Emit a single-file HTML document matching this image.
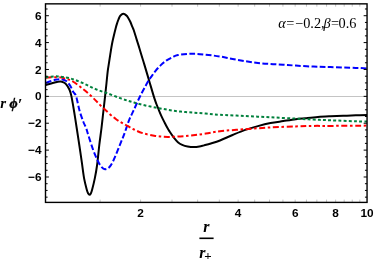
<!DOCTYPE html>
<html><head><meta charset="utf-8"><style>
html,body{margin:0;padding:0;background:#fff;}
body{width:374px;height:261px;overflow:hidden;font-family:"Liberation Sans",sans-serif;}
svg{display:block;will-change:transform}
.t{font-family:"Liberation Sans",sans-serif;font-weight:bold;font-size:11.8px;fill:#000}
.s{font-family:"Liberation Serif",serif;fill:#000}
</style></head><body>
<svg width="374" height="261" viewBox="0 0 374 261">
<rect width="374" height="261" fill="#fff"/>
<clipPath id="c"><rect x="45.50" y="3.85" width="321.55" height="198.55"/></clipPath>
<path d="M45.50 96.5H367.05" stroke="#c4c4c4" stroke-width="1" fill="none"/>
<g clip-path="url(#c)" fill="none" stroke-width="2" stroke-linejoin="round">
<path d="M45.60 85.00 C46.67 84.72 50.10 83.80 52.00 83.30 C53.90 82.80 55.62 82.30 57.00 82.00 C58.38 81.70 59.22 81.45 60.30 81.50 C61.38 81.55 62.52 81.83 63.50 82.30 C64.48 82.77 65.22 83.10 66.20 84.30 C67.18 85.50 68.53 87.53 69.40 89.50 C70.27 91.47 70.60 92.35 71.40 96.10 C72.20 99.85 73.32 106.68 74.20 112.00 C75.08 117.32 75.85 122.50 76.70 128.00 C77.55 133.50 78.45 139.30 79.30 145.00 C80.15 150.70 81.00 156.63 81.80 162.20 C82.60 167.77 83.27 173.80 84.10 178.40 C84.93 183.00 86.12 187.28 86.80 189.80 C87.48 192.32 87.75 192.67 88.20 193.50 C88.65 194.33 89.07 194.80 89.50 194.80 C89.93 194.80 90.37 194.33 90.80 193.50 C91.23 192.67 91.43 192.32 92.10 189.80 C92.77 187.28 93.97 182.53 94.80 178.40 C95.63 174.27 96.35 170.57 97.10 165.00 C97.85 159.43 98.57 151.17 99.30 145.00 C100.03 138.83 100.83 133.50 101.50 128.00 C102.17 122.50 102.70 117.32 103.30 112.00 C103.90 106.68 104.57 100.93 105.10 96.10 C105.63 91.27 106.07 87.13 106.50 83.00 C106.93 78.87 107.27 74.77 107.70 71.30 C108.13 67.83 108.65 65.14 109.10 62.20 C109.55 59.26 109.92 56.68 110.40 53.65 C110.88 50.62 111.45 46.91 112.00 44.00 C112.55 41.09 113.07 38.93 113.70 36.20 C114.33 33.48 115.25 29.75 115.80 27.65 C116.35 25.55 116.63 24.76 117.00 23.60 C117.37 22.44 117.63 21.68 118.00 20.70 C118.37 19.72 118.80 18.53 119.20 17.70 C119.60 16.87 119.98 16.26 120.40 15.70 C120.83 15.14 121.25 14.67 121.75 14.35 C122.25 14.03 122.86 13.76 123.40 13.75 C123.94 13.74 124.50 14.01 125.00 14.30 C125.50 14.59 125.96 15.05 126.40 15.50 C126.84 15.95 127.00 15.95 127.65 17.00 C128.30 18.05 129.49 20.10 130.30 21.80 C131.11 23.50 131.93 25.83 132.50 27.20 C133.07 28.57 133.00 27.93 133.70 30.00 C134.40 32.08 135.75 36.62 136.70 39.65 C137.65 42.68 138.50 45.26 139.40 48.20 C140.30 51.14 141.28 54.60 142.10 57.30 C142.92 60.00 143.15 60.58 144.30 64.40 C145.45 68.22 147.43 74.92 149.00 80.20 C150.57 85.48 152.47 92.13 153.70 96.10 C154.93 100.07 155.58 101.78 156.40 104.00 C157.22 106.22 157.78 107.43 158.60 109.40 C159.42 111.37 160.28 113.57 161.30 115.80 C162.32 118.03 163.72 120.83 164.70 122.80 C165.68 124.77 166.40 126.17 167.20 127.60 C168.00 129.03 168.43 129.77 169.50 131.40 C170.57 133.03 172.25 135.60 173.65 137.40 C175.05 139.20 176.48 140.95 177.90 142.20 C179.32 143.45 180.58 144.18 182.20 144.90 C183.82 145.62 185.63 146.14 187.60 146.50 C189.57 146.86 192.03 147.06 194.00 147.06 C195.97 147.06 197.75 146.78 199.40 146.50 C201.05 146.22 201.98 145.90 203.90 145.40 C205.82 144.90 208.22 144.32 210.90 143.50 C213.58 142.68 216.38 141.92 220.00 140.50 C223.62 139.08 228.38 136.77 232.60 135.00 C236.82 133.23 241.08 131.38 245.30 129.90 C249.52 128.42 253.70 127.23 257.90 126.10 C262.10 124.97 266.28 123.93 270.50 123.10 C274.72 122.27 278.98 121.75 283.20 121.10 C287.42 120.45 292.12 119.68 295.80 119.20 C299.48 118.72 301.62 118.57 305.30 118.20 C308.98 117.83 313.70 117.32 317.90 117.00 C322.10 116.68 326.28 116.50 330.50 116.30 C334.72 116.10 338.98 115.97 343.20 115.80 C347.42 115.63 351.80 115.43 355.80 115.30 C359.80 115.17 365.30 115.05 367.20 115.00" stroke="#000"/>
<path d="M45.80 82.90 C46.80 82.55 49.93 81.35 51.80 80.80 C53.67 80.25 55.47 79.87 57.00 79.60 C58.53 79.33 59.47 78.97 61.00 79.20 C62.53 79.43 64.68 79.93 66.20 81.00 C67.72 82.07 68.92 83.75 70.10 85.60 C71.28 87.45 72.31 90.35 73.30 92.10 C74.29 93.85 75.02 93.03 76.05 96.10 C77.08 99.17 78.31 106.27 79.50 110.50 C80.69 114.73 82.10 118.58 83.20 121.50 C84.30 124.42 85.25 125.72 86.10 128.00 C86.95 130.28 87.10 131.48 88.30 135.20 C89.50 138.92 91.77 146.13 93.30 150.30 C94.83 154.47 96.22 157.53 97.50 160.20 C98.78 162.87 99.75 164.80 101.00 166.30 C102.25 167.80 103.58 169.08 105.00 169.20 C106.42 169.32 108.12 168.40 109.50 167.00 C110.88 165.60 111.62 164.37 113.30 160.80 C114.98 157.23 117.70 150.27 119.60 145.60 C121.50 140.93 123.13 137.02 124.70 132.80 C126.27 128.58 127.53 123.98 129.00 120.30 C130.47 116.62 131.65 114.70 133.50 110.70 C135.35 106.70 137.73 101.07 140.10 96.30 C142.47 91.53 145.85 85.33 147.70 82.10 C149.55 78.87 149.92 78.73 151.20 76.90 C152.48 75.07 153.80 73.07 155.40 71.10 C157.00 69.13 159.00 66.83 160.80 65.10 C162.60 63.37 164.32 61.97 166.20 60.70 C168.08 59.43 170.13 58.43 172.10 57.50 C174.07 56.57 174.70 55.73 178.00 55.10 C181.30 54.47 187.27 53.77 191.90 53.70 C196.53 53.63 201.12 54.23 205.80 54.70 C210.48 55.17 215.53 55.78 220.00 56.50 C224.47 57.22 228.38 58.22 232.60 59.00 C236.82 59.78 241.08 60.53 245.30 61.20 C249.52 61.87 253.70 62.53 257.90 63.00 C262.10 63.47 266.28 63.72 270.50 64.00 C274.72 64.28 278.98 64.43 283.20 64.70 C287.42 64.97 290.75 65.28 295.80 65.60 C300.85 65.92 307.72 66.35 313.50 66.60 C319.28 66.85 323.45 66.88 330.50 67.10 C337.55 67.32 349.68 67.68 355.80 67.90 C361.92 68.12 365.30 68.32 367.20 68.40" stroke="#0000ff" stroke-dasharray="5.8 2.4"/>
<path d="M45.60 77.70 C47.83 77.62 55.60 77.02 59.00 77.20 C62.40 77.38 63.68 78.08 66.00 78.80 C68.32 79.52 70.07 79.80 72.90 81.50 C75.73 83.20 79.63 86.27 83.00 89.00 C86.37 91.73 89.73 94.73 93.10 97.90 C96.47 101.07 99.42 104.48 103.20 108.00 C106.98 111.52 112.02 116.17 115.80 119.00 C119.58 121.83 122.87 123.25 125.90 125.00 C128.93 126.75 131.22 128.15 134.00 129.50 C136.78 130.85 139.05 132.03 142.60 133.10 C146.15 134.17 151.08 135.27 155.30 135.90 C159.52 136.53 163.70 136.82 167.90 136.90 C172.10 136.98 176.28 136.68 180.50 136.40 C184.72 136.12 188.98 135.67 193.20 135.20 C197.42 134.73 201.33 134.27 205.80 133.60 C210.27 132.93 213.42 131.93 220.00 131.20 C226.58 130.47 236.88 129.83 245.30 129.20 C253.72 128.57 262.08 127.87 270.50 127.40 C278.92 126.93 288.63 126.65 295.80 126.40 C302.97 126.15 307.72 125.98 313.50 125.90 C319.28 125.82 321.55 125.95 330.50 125.90 C339.45 125.85 361.08 125.65 367.20 125.60" stroke="#ff0000" stroke-dasharray="6 2.6 2.5 2.6"/>
<path d="M45.60 77.20 C47.62 77.07 53.58 76.20 57.70 76.40 C61.82 76.60 66.08 77.27 70.30 78.40 C74.52 79.53 78.78 81.42 83.00 83.20 C87.22 84.98 91.40 87.37 95.60 89.10 C99.80 90.83 103.98 92.05 108.20 93.60 C112.42 95.15 117.02 97.03 120.90 98.40 C124.78 99.77 127.88 100.73 131.50 101.80 C135.12 102.87 138.63 103.85 142.60 104.80 C146.57 105.75 151.08 106.67 155.30 107.50 C159.52 108.33 163.70 109.12 167.90 109.80 C172.10 110.48 176.28 111.13 180.50 111.60 C184.72 112.07 188.98 112.27 193.20 112.60 C197.42 112.93 201.33 113.23 205.80 113.60 C210.27 113.97 213.42 114.40 220.00 114.80 C226.58 115.20 236.88 115.58 245.30 116.00 C253.72 116.42 262.08 116.87 270.50 117.30 C278.92 117.73 288.63 118.22 295.80 118.60 C302.97 118.98 307.72 119.32 313.50 119.60 C319.28 119.88 323.45 120.02 330.50 120.30 C337.55 120.58 349.68 121.08 355.80 121.30 C361.92 121.52 365.30 121.55 367.20 121.60" stroke="#00803c" stroke-dasharray="2.9 2.25"/>
</g>
<g stroke="#000" stroke-width="1" fill="none"><path d="M45.50 197.15h2.10 M367.05 197.15h-2.10"/><path d="M45.50 190.43h2.10 M367.05 190.43h-2.10"/><path d="M45.50 183.71h2.10 M367.05 183.71h-2.10"/><path d="M45.50 176.99h3.40 M367.05 176.99h-3.40"/><path d="M45.50 170.27h2.10 M367.05 170.27h-2.10"/><path d="M45.50 163.55h2.10 M367.05 163.55h-2.10"/><path d="M45.50 156.83h2.10 M367.05 156.83h-2.10"/><path d="M45.50 150.11h3.40 M367.05 150.11h-3.40"/><path d="M45.50 143.39h2.10 M367.05 143.39h-2.10"/><path d="M45.50 136.67h2.10 M367.05 136.67h-2.10"/><path d="M45.50 129.95h2.10 M367.05 129.95h-2.10"/><path d="M45.50 123.23h3.40 M367.05 123.23h-3.40"/><path d="M45.50 116.51h2.10 M367.05 116.51h-2.10"/><path d="M45.50 109.79h2.10 M367.05 109.79h-2.10"/><path d="M45.50 103.07h2.10 M367.05 103.07h-2.10"/><path d="M45.50 96.35h3.40 M367.05 96.35h-3.40"/><path d="M45.50 89.63h2.10 M367.05 89.63h-2.10"/><path d="M45.50 82.91h2.10 M367.05 82.91h-2.10"/><path d="M45.50 76.19h2.10 M367.05 76.19h-2.10"/><path d="M45.50 69.47h3.40 M367.05 69.47h-3.40"/><path d="M45.50 62.75h2.10 M367.05 62.75h-2.10"/><path d="M45.50 56.03h2.10 M367.05 56.03h-2.10"/><path d="M45.50 49.31h2.10 M367.05 49.31h-2.10"/><path d="M45.50 42.59h3.40 M367.05 42.59h-3.40"/><path d="M45.50 35.87h2.10 M367.05 35.87h-2.10"/><path d="M45.50 29.15h2.10 M367.05 29.15h-2.10"/><path d="M45.50 22.43h2.10 M367.05 22.43h-2.10"/><path d="M45.50 15.71h3.40 M367.05 15.71h-3.40"/><path d="M45.50 8.99h2.10 M367.05 8.99h-2.10"/></g><g stroke="#000" stroke-opacity="0.4" stroke-width="0.6" fill="none"><path d="M100.12 202.40v-2.80 M100.12 3.85v2.80"/><path d="M140.60 202.40v-2.80 M140.60 3.85v2.80"/><path d="M172.00 202.40v-2.80 M172.00 3.85v2.80"/><path d="M197.65 202.40v-2.80 M197.65 3.85v2.80"/><path d="M219.34 202.40v-2.80 M219.34 3.85v2.80"/><path d="M238.13 202.40v-2.80 M238.13 3.85v2.80"/><path d="M254.70 202.40v-2.80 M254.70 3.85v2.80"/><path d="M269.52 202.40v-2.80 M269.52 3.85v2.80"/><path d="M282.93 202.40v-2.80 M282.93 3.85v2.80"/><path d="M295.17 202.40v-2.80 M295.17 3.85v2.80"/><path d="M306.44 202.40v-2.80 M306.44 3.85v2.80"/><path d="M316.86 202.40v-2.80 M316.86 3.85v2.80"/><path d="M326.57 202.40v-2.80 M326.57 3.85v2.80"/><path d="M335.65 202.40v-2.80 M335.65 3.85v2.80"/><path d="M344.18 202.40v-2.80 M344.18 3.85v2.80"/><path d="M352.22 202.40v-2.80 M352.22 3.85v2.80"/><path d="M359.83 202.40v-2.80 M359.83 3.85v2.80"/></g>
<rect x="45.50" y="3.85" width="321.55" height="198.55" fill="none" stroke="#000" stroke-width="1.4"/>
<g class="t"><text x="41.6" y="19.81" text-anchor="end">6</text><text x="41.6" y="46.69" text-anchor="end">4</text><text x="41.6" y="73.57" text-anchor="end">2</text><text x="41.6" y="100.45" text-anchor="end">0</text><text x="41.6" y="127.33" text-anchor="end">−2</text><text x="41.6" y="154.21" text-anchor="end">−4</text><text x="41.6" y="181.09" text-anchor="end">−6</text><text x="140.60" y="216.5" text-anchor="middle">2</text><text x="238.13" y="216.5" text-anchor="middle">4</text><text x="295.17" y="216.5" text-anchor="middle">6</text><text x="335.65" y="216.5" text-anchor="middle">8</text><text x="367.05" y="216.5" text-anchor="middle">10</text></g>
<text class="s" y="28.3" font-size="14.3px"><tspan x="278.3" font-style="italic">α</tspan><tspan x="286.3">=</tspan><tspan x="295.1">−0.2,</tspan><tspan x="323.5" font-style="italic">β</tspan><tspan x="330.9">=</tspan><tspan x="338.6">0.6</tspan></text>
<text class="s" y="108.2" font-weight="bold" font-style="italic"><tspan x="0.3" font-size="15px">r</tspan><tspan x="9.4" font-size="14px" stroke="#000" stroke-width="0.45">ϕ</tspan><tspan x="17.7" dy="1.6" font-size="16px">′</tspan></text>
<text class="s" x="203.2" y="231.8" font-size="16px" font-weight="bold" font-style="italic">r</text>
<path d="M199.4 238.3H213.6" stroke="#000" stroke-width="1.6"/>
<text class="s" x="199.2" y="258" font-size="16px" font-weight="bold" font-style="italic">r</text>
<text class="s" x="204.3" y="259.7" font-size="13px" font-weight="bold">+</text>
</svg>
</body></html>
